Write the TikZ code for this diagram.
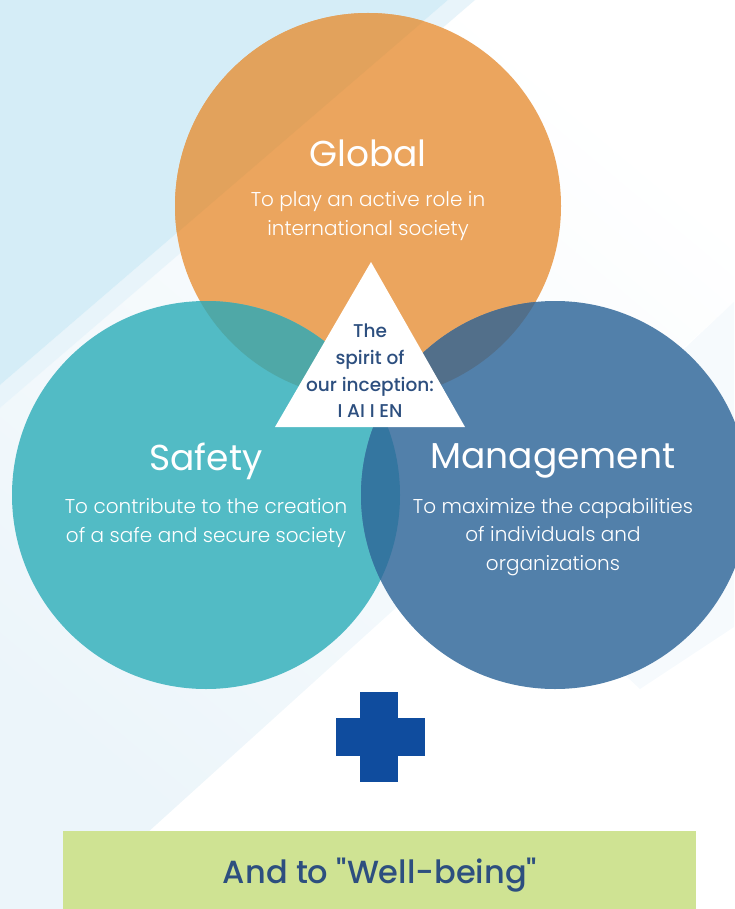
\documentclass[tikz,border=0pt]{standalone}
\usepackage{fontspec}
\setmainfont{Poppins}
\newfontfamily\lightfont{Poppins Light}
\newfontfamily\medfont{Poppins Medium}

\definecolor{skyband}{HTML}{D5EDF7}
\definecolor{skylight}{HTML}{E8F4FA}
\definecolor{skyfaint}{HTML}{ECF5FA}
\definecolor{globalorange}{HTML}{EBA55E}
\definecolor{globaldark}{HTML}{E2A25C}
\definecolor{safetyteal}{HTML}{52BBC5}
\definecolor{mgmtblue}{HTML}{5280AA}
\definecolor{tealover}{HTML}{4FA8A7}
\definecolor{blueover}{HTML}{526F8A}
\definecolor{lensblue}{HTML}{3476A0}
\definecolor{inkblue}{HTML}{2D4F7F}
\definecolor{plusblue}{HTML}{0F4C9E}
\definecolor{wellgreen}{HTML}{CFE393}

\begin{document}
\begin{tikzpicture}[x=1pt,y=-1pt]
\useasboundingbox (0,0) rectangle (734,909);
% background stripes
\begin{scope}
    \clip (0,0) rectangle (734,909);
    \shade[top color=white, bottom color=skyfaint, shading angle=-40]
        (475,0) -- (734,0) -- (734,302) -- (63,909) -- (0,909) -- (0,408) -- cycle;
    \fill[skylight] (448,0) -- (475,0) -- (0,408) -- (0,385) -- cycle;
    \fill[skyband] (0,0) -- (448,0) -- (0,385) -- cycle;
    \fill[skyfaint!45!white] (734,302) -- (734,627) -- (640,689) -- (480,540) -- cycle;
\end{scope}
% circles
\fill[globalorange] (368,206) circle (193);
\begin{scope}
    \clip (368,206) circle (193);
    \fill[globaldark] (0,0) -- (448,0) -- (0,385) -- cycle;
\end{scope}
\fill[safetyteal] (206,495) circle (194);
\fill[mgmtblue] (555,495) circle (194);
\begin{scope}
    \clip (368,206) circle (193);
    \fill[tealover] (206,495) circle (194);
    \fill[blueover] (555,495) circle (194);
\end{scope}
\begin{scope}
    \clip (206,495) circle (194);
    \fill[lensblue] (555,495) circle (194);
\end{scope}
% triangle
\fill[white] (371,262) -- (465,427) -- (275,427) -- cycle;
\begin{scope}[every node/.style={text=white,align=center}]
    \node[font=\fontsize{36}{40}\selectfont] (global) at (368,153) {Global};
    \node[font=\lightfont\fontsize{20}{29}\selectfont] (globaltxt) at (368,216)
        {To play an active role in\\international society};
    \node[font=\fontsize{36}{40}\selectfont] (safety) at (206,461) {Safety};
    \node[font=\lightfont\fontsize{20}{28.5}\selectfont] (safetytxt) at (206,523)
        {To contribute to the creation\\of a safe and secure society};
    \node[font=\fontsize{36}{40}\selectfont] (mgmt) at (553,461) {Management};
    \node[font=\lightfont\fontsize{20}{28.5}\selectfont] (mgmttxt) at (553,537)
        {To maximize the capabilities\\of individuals and\\organizations};
\end{scope}
\begin{scope}[every node/.style={text=inkblue,align=center}]
    \node[font=\medfont\fontsize{18.5}{26.7}\selectfont] (spirit) at (370,371)
        {The\\spirit of\\our inception:\\I AI I EN};
\end{scope}
% plus sign
\fill[plusblue] (360,692) rectangle (398,782);
\fill[plusblue] (336,718) rectangle (425,756);
% well-being box
\fill[wellgreen] (63,831) rectangle (696,909);
\node[text=inkblue,font=\medfont\fontsize{32}{36}\selectfont] (wellbeing) at (380,875)
    {And to "Well-being"};
\end{tikzpicture}
\end{document}
